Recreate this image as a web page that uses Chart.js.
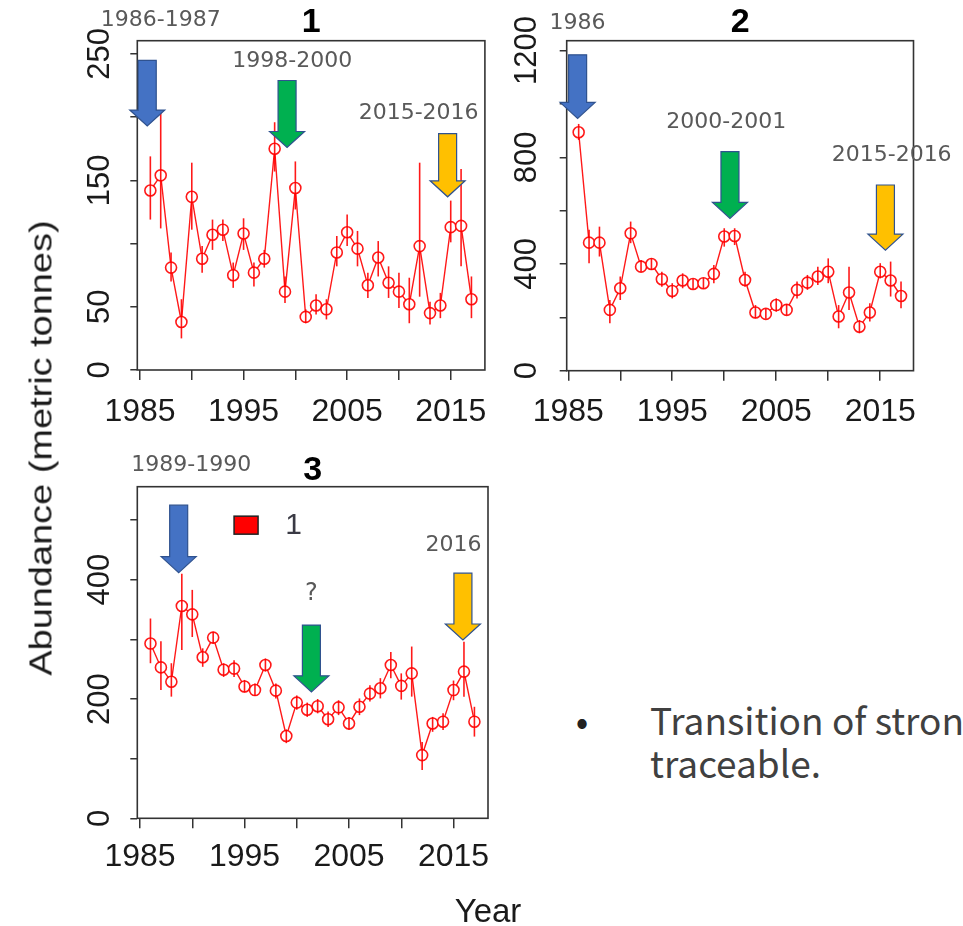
<!DOCTYPE html>
<html>
<head>
<meta charset="utf-8">
<script src="https://cdn.jsdelivr.net/npm/chart.js@4.4.1/dist/chart.umd.min.js"></script>
<style>
  body { margin: 0; width: 963px; height: 926px; overflow: hidden; background: #fff; position: relative; }
  canvas { position: absolute; }
  .t { position: absolute; white-space: nowrap; line-height: 1; }
</style>
</head>
<body>
<canvas id="c1" width="500" height="440" style="left:0;top:0"></canvas>
<canvas id="c2" width="463" height="440" style="left:500px;top:0"></canvas>
<canvas id="c3" width="500" height="486" style="left:0;top:440px"></canvas>

<div class="t" style="left:41px;top:448px;font:32px 'Liberation Sans',Arial,sans-serif;color:#1a1a1a;transform:translate(-50%,-50%) rotate(-90deg) scaleX(1.185)">Abundance (metric tonnes)</div>
<div class="t" style="left:488px;top:892px;font:33px 'Liberation Sans',Arial,sans-serif;color:#1a1a1a;transform:translateX(-50%)">Year</div>
<div class="t" style="left:582px;top:692px;font:37px 'Noto Sans CJK JP',sans-serif;color:#222;transform:translateX(-50%)">•</div>
<div class="t" style="left:650px;top:691.5px;font:37px 'Noto Sans CJK JP',sans-serif;color:#404040">Transition of strong</div>
<div class="t" style="left:650px;top:735px;font:37px 'Noto Sans CJK JP',sans-serif;color:#404040">traceable.</div>

<script>
// ---------- data ----------
const years = [1986, 1987, 1988, 1989, 1990, 1991, 1992, 1993, 1994, 1995, 1996, 1997, 1998, 1999, 2000, 2001,
               2002, 2003, 2004, 2005, 2006, 2007, 2008, 2009, 2010, 2011, 2012, 2013, 2014, 2015, 2016, 2017];

const xTicks = [1985, 1990, 1995, 2000, 2005, 2010, 2015];
const xTickLabels = [1985, 1995, 2005, 2015];

// panel 1
const abund1 = [142, 154, 81, 38, 137, 88, 107, 111, 75, 108, 77, 88, 175, 62, 144, 42,
                51, 48, 93, 109, 96, 67, 89, 69, 62, 52, 98, 45, 51, 113, 114, 56];
const low1   = [119, 112, 70, 25, 111, 77, 95, 102, 65, 95, 66, 81, 157, 53, 127, 37,
                44, 40, 82, 98, 82, 57, 74, 57, 49, 37, 58, 36, 41, 101, 82, 41];
const high1  = [169, 204, 93, 56, 164, 98, 119, 119, 85, 120, 85, 95, 196, 74, 165, 48,
                60, 56, 106, 123, 110, 77, 102, 82, 77, 73, 164, 54, 61, 134, 159, 74];
const yTicks1 = [0, 50, 100, 150, 200, 250];
const yTickLabels1 = [0, 50, 150, 250];

// panel 2
const abund2 = [894, 480, 480, 228, 309, 515, 390, 400, 343, 299, 338, 325, 328, 363, 503, 505,
                340, 218, 213, 246, 228, 303, 330, 353, 371, 203, 293, 165, 218, 371, 338, 280];
const low2   = [865, 403, 428, 178, 265, 478, 371, 378, 315, 271, 309, 305, 308, 328, 465, 471,
                315, 196, 195, 221, 208, 271, 303, 321, 328, 159, 228, 140, 184, 346, 278, 234];
const high2  = [925, 528, 540, 265, 353, 559, 415, 421, 371, 328, 365, 345, 348, 396, 534, 534,
                371, 246, 232, 271, 250, 334, 359, 390, 421, 246, 390, 190, 253, 403, 409, 334];
const yTicks2 = [0, 200, 400, 600, 800, 1000, 1200];
const yTickLabels2 = [0, 400, 800, 1200];

// panel 3
const abund3 = [293, 253, 229, 356, 342, 270, 303, 249, 251, 221, 215, 257, 214, 138, 194, 182,
                188, 166, 186, 159, 187, 209, 218, 257, 222, 243, 106, 159, 162, 215, 246, 162];
const low3   = [260, 215, 204, 282, 304, 254, 293, 237, 237, 211, 205, 246, 201, 126, 182, 170,
                176, 153, 173, 148, 173, 196, 201, 235, 199, 204, 81, 145, 148, 198, 204, 137];
const high3  = [335, 297, 260, 410, 383, 285, 313, 260, 265, 232, 226, 268, 226, 149, 206, 194,
                200, 179, 198, 170, 201, 223, 235, 279, 243, 288, 128, 170, 176, 231, 296, 187];
const yTicks3 = [0, 100, 200, 300, 400, 500];
const yTickLabels3 = [0, 200, 400];

// arrows: [year, top value, tip value, colour]
const arrows1 = [[1985.7, 245, 193, "#4472C4"], [1999.2, 229, 176, "#00B050"], [2014.7, 187, 137, "#FFC000"]];
const arrows2 = [[1985.9, 1184, 946, "#4472C4"], [2000.55, 821, 571, "#00B050"], [2015.5, 696, 452, "#FFC000"]];
const arrows3 = [[1988.7, 525, 412, "#4472C4"], [2001.4, 324, 212, "#00B050"], [2015.9, 411, 299, "#FFC000"]];

// notes: [text, year, value]
const notes1 = [["1986-1987", 1987.0, 277], ["1998-2000", 1999.7, 244], ["2015-2016", 2011.9, 203]];
const notes2 = [["1986", 1985.9, 1304], ["2000-2001", 2000.2, 930], ["2015-2016", 2016.1, 809]];
const notes3 = [["1989-1990", 1989.9, 592], ["?", 2001.4, 377], ["2016", 2015.0, 458]];

const RED = "rgba(255,0,0,0.9)";

function drawArrow(ctx, cx, yTop, yTip, color) {
    const sw = 9, hw = 17.5, hl = 16;
    const yb = yTip - hl;
    ctx.beginPath();
    ctx.moveTo(cx - sw, yTop);
    ctx.lineTo(cx + sw, yTop);
    ctx.lineTo(cx + sw, yb);
    ctx.lineTo(cx + hw, yb);
    ctx.lineTo(cx, yTip);
    ctx.lineTo(cx - hw, yb);
    ctx.lineTo(cx - sw, yb);
    ctx.closePath();
    ctx.fillStyle = color;
    ctx.fill();
    ctx.strokeStyle = "#2F528F";
    ctx.lineWidth = 1.2;
    ctx.stroke();
}

function makePanel(id, p) {

    const decor = {
        id: "decor",
        afterDatasetsDraw(chart) {
            const { ctx, chartArea: a, scales: { x, y } } = chart;
            ctx.save();

            // error bars
            ctx.strokeStyle = RED;
            ctx.lineWidth = 1.6;
            years.forEach((yr, i) => {
                const px = x.getPixelForValue(yr);
                ctx.beginPath();
                ctx.moveTo(px, y.getPixelForValue(p.low[i]));
                ctx.lineTo(px, y.getPixelForValue(p.high[i]));
                ctx.stroke();
            });

            // box
            ctx.strokeStyle = "#333";
            ctx.lineWidth = 1.6;
            ctx.strokeRect(a.left, a.top, a.right - a.left, a.bottom - a.top);

            // arrows
            p.arrows.forEach(ar => {
                drawArrow(ctx, x.getPixelForValue(ar[0]), y.getPixelForValue(ar[1]), y.getPixelForValue(ar[2]), ar[3]);
            });

            // notes
            ctx.fillStyle = "#595959";
            ctx.textAlign = "center";
            ctx.textBaseline = "middle";
            p.notes.forEach(n => {
                ctx.font = (n[0] === "?" ? "24px" : "22px") + " 'DejaVu Sans'";
                ctx.fillText(n[0], x.getPixelForValue(n[1]), y.getPixelForValue(n[2]));
            });

            // legend (panel 3)
            if (p.legend) {
                const lx = x.getPixelForValue(p.legend[0]);
                const ly = y.getPixelForValue(p.legend[1]);
                ctx.fillStyle = "#ff0000";
                ctx.fillRect(lx, ly, 24, 18);
                ctx.strokeStyle = "#222";
                ctx.lineWidth = 1.5;
                ctx.strokeRect(lx, ly, 24, 18);
                ctx.fillStyle = "#3a3a44";
                ctx.font = "30px 'Liberation Sans'";
                ctx.fillText(p.legend[2], x.getPixelForValue(p.legend[3]), ly + 10);
            }

            // title
            ctx.fillStyle = "#000";
            ctx.font = "bold 34px 'Liberation Sans'";
            ctx.fillText(p.title, (a.left + a.right) / 2, a.top - p.titleGap);

            ctx.restore();
        }
    };

    const c = document.getElementById(id);

    new Chart(c.getContext("2d"), {
        type: "line",
        data: {
            datasets: [{
                label: p.legend ? p.legend[2] : p.title,
                data: years.map((yr, i) => ({ x: yr, y: p.values[i] })),
                borderColor: RED,
                borderWidth: 1.4,
                tension: 0,
                pointRadius: 5.5,
                pointHoverRadius: 5.5,
                pointBorderWidth: 1.6,
                pointBorderColor: RED,
                pointBackgroundColor: "#fff"
            }]
        },
        options: {
            responsive: false,
            animation: false,
            events: [],
            layout: { padding: { left: 0, right: p.padRight, top: p.padTop, bottom: 0 } },
            plugins: { legend: { display: false }, tooltip: { enabled: false } },
            scales: {
                x: {
                    type: "linear",
                    min: p.xMin,
                    max: p.xMax,
                    afterBuildTicks: s => { s.ticks = xTicks.map(v => ({ value: v })); },
                    afterFit: s => { s.height = p.xAxisH; },
                    border: { display: false },
                    grid: { drawOnChartArea: false, tickLength: 10, color: "#333", lineWidth: 1.5 },
                    ticks: {
                        autoSkip: false,
                        minRotation: 0,
                        maxRotation: 0,
                        padding: p.xPad,
                        color: "#1a1a1a",
                        font: { family: "'Liberation Sans'", size: 32 },
                        callback: v => xTickLabels.includes(v) ? String(v) : ""
                    }
                },
                y: {
                    min: 0,
                    max: p.yMax,
                    afterBuildTicks: s => { s.ticks = p.yTicks.map(v => ({ value: v })); },
                    afterFit: s => { s.width = p.yAxisW; },
                    border: { display: false },
                    grid: { drawOnChartArea: false, tickLength: 7, color: "#333", lineWidth: 1.5 },
                    ticks: {
                        autoSkip: false,
                        minRotation: 90,
                        maxRotation: 90,
                        crossAlign: "center",
                        padding: p.yPad,
                        color: "#1a1a1a",
                        font: { family: "'Liberation Sans'", size: 31 },
                        callback: v => p.yLabels.includes(v) ? String(v) : ""
                    }
                }
            }
        },
        plugins: [decor]
    });
}

makePanel("c1", {
    title: "1", titleGap: 18,
    values: abund1, low: low1, high: high1, yTicks: yTicks1, yLabels: yTickLabels1,
    arrows: arrows1, notes: notes1,
    xMin: 1984.74, xMax: 2018.3, yMax: 260.5,
    yAxisW: 137.3, xAxisH: 70, padRight: 12, padTop: 40.7, xPad: 12.5, yPad: 4
});

makePanel("c2", {
    title: "2", titleGap: 18,
    values: abund2, low: low2, high: high2, yTicks: yTicks2, yLabels: yTickLabels2,
    arrows: arrows2, notes: notes2,
    xMin: 1984.85, xMax: 2018.2, yMax: 1237,
    yAxisW: 66.7, xAxisH: 69.3, padRight: 49.5, padTop: 40.7, xPad: 12.5, yPad: -2.3
});

makePanel("c3", {
    title: "3", titleGap: 16,
    values: abund3, low: low3, high: high3, yTicks: yTicks3, yLabels: yTickLabels3,
    arrows: arrows3, notes: notes3,
    legend: [1994.0, 506.6, "1", 1999.7],
    xMin: 1984.74, xMax: 2018.3, yMax: 556,
    yAxisW: 137.3, xAxisH: 107.7, padRight: 12, padTop: 46.7, xPad: 9.5, yPad: 4
});
</script>
</body>
</html>
